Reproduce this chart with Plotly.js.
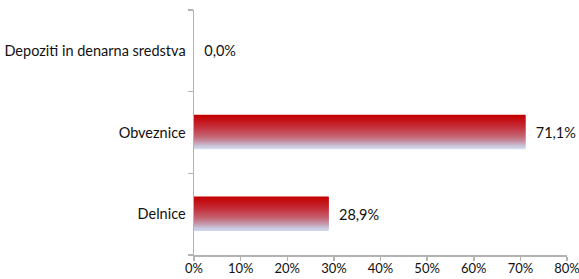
<!DOCTYPE html>
<html><head><meta charset="utf-8">
<script src="https://cdn.plot.ly/plotly-3.0.1.min.js"></script>
<style>html,body{margin:0;padding:0;background:#fff}#c{width:579px;height:279px}</style>
</head><body><div id="c"></div>
<script>
const categories = ['Delnice', 'Obveznice', 'Depoziti in denarna sredstva'];
const shares = [28.9, 71.1, 0.0];
const xTicks = [0, 10, 20, 30, 40, 50, 60, 70, 80];

const stops = [[0, [195, 0, 0]], [0.35, [196, 45, 55]], [0.65, [196, 100, 115]], [0.85, [198, 160, 180]], [1, [205, 215, 238]]];
function colAt(t) {
  for (let i = 1; i < stops.length; i++) {
    if (t <= stops[i][0]) {
      const a = stops[i-1], b = stops[i];
      const f = (t - a[0]) / (b[0] - a[0]);
      const c = a[1].map((v, k) => Math.round(v + (b[1][k] - v) * f));
      return 'rgb(' + c.join(',') + ')';
    }
  }
  return 'rgb(205,215,238)';
}
const W = 0.41, N = 34;
const traces = [];
for (let i = 0; i < N; i++) {
  const t = i / (N - 1);
  const h = (i === N - 1) ? W / N : W / N * 2;
  traces.push({
    type: 'bar', orientation: 'h', x: shares, y: categories,
    width: h, offset: W / 2 - (i + 1) * W / N,
    marker: {color: colAt(t), line: {width: 0}},
    hoverinfo: 'skip', showlegend: false
  });
}
traces.push({
  type: 'bar', orientation: 'h', x: shares, y: categories,
  width: W, marker: {color: 'rgba(0,0,0,0)'},
  text: shares, texttemplate: '\u2002%{x:.1f}%', textposition: 'outside',
  textfont: {family: 'Lato, Carlito, sans-serif', size: 14.5, color: '#111'},
  cliponaxis: false, showlegend: false
});

const layout = {
  width: 579, height: 279,
  margin: {l: 194, r: 12, t: 10, b: 24},
  barmode: 'overlay', separators: ',.',
  paper_bgcolor: '#fff', plot_bgcolor: '#fff',
  font: {family: 'Lato, Carlito, sans-serif', size: 14.5, color: '#111'},
  xaxis: {
    range: [0, 80], tickvals: xTicks, ticktext: xTicks.map(v => v + '%'),
    showgrid: false, zeroline: false, showline: true, linecolor: '#b3b3b3', linewidth: 1.5,
    ticks: 'outside', ticklen: 4, tickcolor: '#b3b3b3', tickwidth: 1.5,
    ticklabeloverflow: 'allow', automargin: false, ticklabelstandoff: -3,
    tickfont: {size: 13}, fixedrange: true
  },
  yaxis: {
    type: 'category', categoryorder: 'array', categoryarray: categories,
    range: [-0.5, 2.5],
    showgrid: false, zeroline: false, showline: true, linecolor: '#b3b3b3', linewidth: 1.5,
    ticks: 'outside', ticklen: 5, tickcolor: '#b3b3b3', tickwidth: 1.5, tickson: 'boundaries',
    ticklabelstandoff: 4, automargin: false,
    tickfont: {size: 14.5}, fixedrange: true
  }
};
Plotly.newPlot('c', traces, layout, {displayModeBar: false, staticPlot: true});
</script></body></html>
